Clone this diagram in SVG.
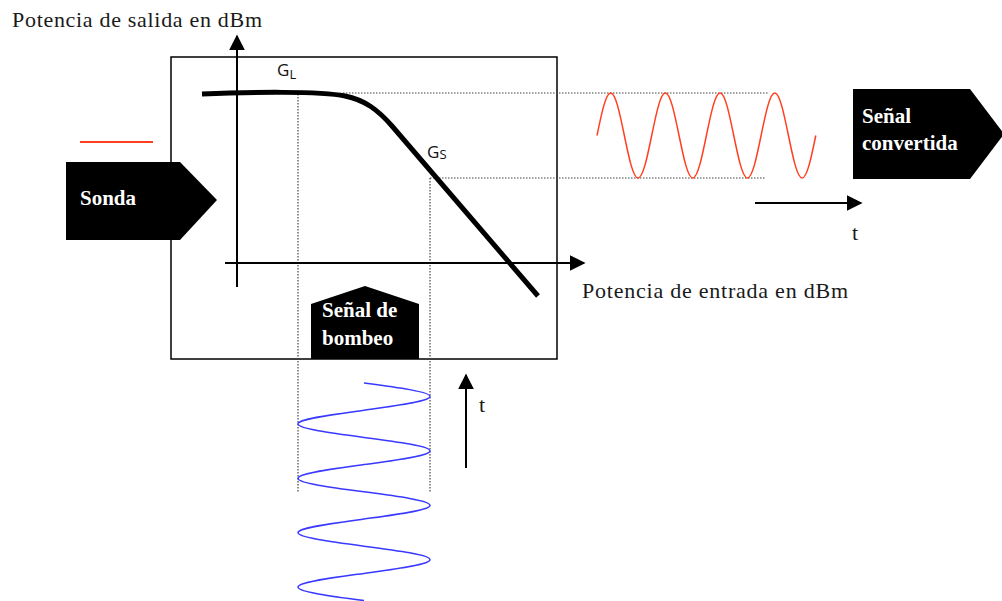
<svg xmlns="http://www.w3.org/2000/svg" width="1002" height="601" viewBox="0 0 1002 601">
<defs>
<style>
.ttl{font-family:"Liberation Serif",serif;font-size:22px;fill:#1a1a1a}
.lbl{font-family:"Liberation Serif",serif;font-size:21px;font-weight:bold;fill:#fff}
.g{font-family:"Open Sans","Liberation Sans",sans-serif;font-size:17px;fill:#111}
.dot{stroke:#444;stroke-width:1.2;stroke-dasharray:1.5,1.5;fill:none}
.ax{stroke:#000;stroke-width:2;fill:none}
.shape{fill:#000}
</style>
<marker id="ahb" viewBox="0 0 10 10" refX="9" refY="5" markerWidth="8" markerHeight="8" orient="auto">
<path d="M0,0 L10,5 L0,10 z" fill="#000"/>
</marker>
</defs>
<rect width="1002" height="601" fill="#fff"/>
<g id="frame">
<rect x="171" y="57" width="386" height="302" fill="none" stroke="#000" stroke-width="1.5"/>
</g>
<g id="guides">
<line class="dot" x1="298" y1="94" x2="298" y2="492"/>
<line class="dot" x1="430" y1="178" x2="430" y2="492"/>
<line class="dot" x1="343" y1="93" x2="768" y2="93"/>
<line class="dot" x1="430" y1="178" x2="766" y2="178"/>
</g>
<g id="connectors">
<line class="ax" x1="237" y1="287" x2="237" y2="36" marker-end="url(#ahb)"/>
<line class="ax" x1="225" y1="263" x2="584" y2="263" marker-end="url(#ahb)"/>
<line class="ax" x1="755" y1="203" x2="861" y2="203" marker-end="url(#ahb)"/>
<line class="ax" x1="466" y1="468" x2="466" y2="375" marker-end="url(#ahb)"/>
</g>
<g id="curve">
<path d="M202,94 C250,92 320,91 345,96 C365,100 378,110 392,126 L538,296" fill="none" stroke="#000" stroke-width="5"/>
<text class="g" x="277" y="76">G<tspan font-size="13" dy="3">L</tspan></text>
<text class="g" x="427" y="158">G<tspan font-size="13" dy="1">S</tspan></text>
</g>
<g id="red-wave">
<path d="M597,135.5 C601.46,113.73 605.75,93 610.68,93 S619.89,113.73 624.35,135.5 S633.1,178 638.03,178 S647.24,157.27 651.7,135.5 S660.45,93 665.38,93 S674.59,113.73 679.05,135.5 S687.8,178 692.73,178 S701.94,157.27 706.4,135.5 S715.15,93 720.08,93 S729.29,113.73 733.75,135.5 S742.5,178 747.43,178 S756.64,157.27 761.1,135.5 S769.85,93 774.78,93 S783.99,113.73 788.45,135.5 S797.2,178 802.13,178 S811.34,157.27 815.8,135.5" fill="none" stroke="#ff4020" stroke-width="1.5"/>
<line x1="80" y1="142" x2="153" y2="142" stroke="#ff4020" stroke-width="2"/>
</g>
<g id="blue-wave">
<path d="M364,383 C397.81,387.44 430,391.7 430,396.6 S396.19,405.76 364,410.2 S298,418.9 298,423.8 S330.19,432.96 364,437.4 S430,446.1 430,451 S396.19,460.16 364,464.6 S298,473.3 298,478.2 S330.19,487.36 364,491.8 S430,500.5 430,505.4 S396.19,514.56 364,519 S298,527.7 298,532.6 S330.19,541.76 364,546.2 S430,554.9 430,559.8 S396.19,568.96 364,573.4 S298,582.1 298,587 S330.19,596.16 364,600.6" fill="none" stroke="#3a3aff" stroke-width="1.5"/>
</g>
<g id="sonda">
<path class="shape" d="M66,162 L180,162 L217,200 L180,240 L66,240 z"/>
<text class="lbl" x="80" y="205">Sonda</text>
</g>
<g id="senal-convertida">
<path class="shape" d="M853,89 L970,89 L1004,134 L970,179 L853,179 z"/>
<text class="lbl" x="862" y="123">Señal</text>
<text class="lbl" x="862" y="150">convertida</text>
</g>
<g id="senal-bombeo">
<path class="shape" d="M311,304 L365,286 L419,304 L419,359 L311,359 z"/>
<text class="lbl" x="322" y="317">Señal de</text>
<text class="lbl" x="322" y="345">bombeo</text>
</g>
<g id="labels">
<text class="ttl" x="12" y="27" textLength="250" lengthAdjust="spacing">Potencia de salida en dBm</text>
<text class="ttl" x="582" y="298" textLength="266" lengthAdjust="spacing">Potencia de entrada en dBm</text>
<text class="ttl" x="852" y="240">t</text>
<text class="ttl" x="479" y="412">t</text>
</g>
</svg>
